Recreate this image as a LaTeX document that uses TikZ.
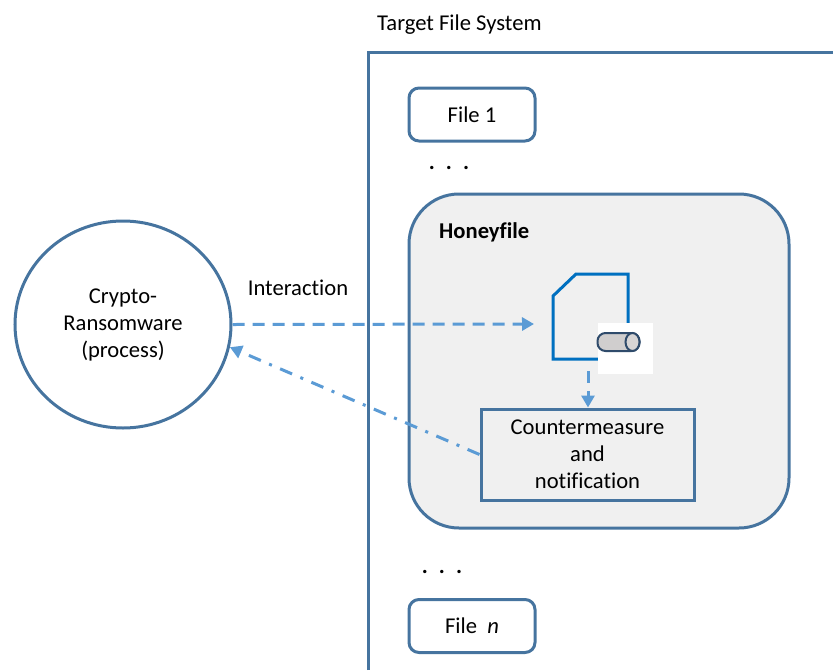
\documentclass[tikz,border=0pt]{standalone}
\usepackage{fontspec}
\setmainfont{Carlito}[Ligatures=NoCommon]
\usetikzlibrary{arrows.meta, positioning, shapes.geometric}

\definecolor{framecol}{HTML}{46749F}
\definecolor{flowcol}{HTML}{5B9BD5}
\definecolor{iconcol}{HTML}{0070C0}
\definecolor{honeycol}{HTML}{F0F0F0}
\definecolor{cylcol}{HTML}{D0CECE}
\definecolor{cyledge}{HTML}{2F4B6B}

\begin{document}
\begin{tikzpicture}[
    x=1pt, y=-1pt,
    font=\fontsize{22.6}{27}\selectfont,
    box/.style={rectangle, draw=framecol, line width=3pt, align=center, inner sep=0pt},
    filebox/.style={box, rounded corners=10pt, minimum width=126pt, minimum height=53pt},
    arrow/.style={-{Triangle[length=12pt, width=13pt]}, flowcol, line width=3pt}
]
\useasboundingbox (0,0) rectangle (833,670);

% Frame
\draw[framecol, line width=3pt] (368,670) -- (368,52) -- (833,52);
\node[anchor=west, inner sep=0pt] (title) at (377,25) {Target File System};

% Boxes
\node[filebox] (file1) at (472,114.5) {File 1};
\node[filebox] (filen) at (472,626) {File \ \textit{n}};
\node[box, rounded corners=50pt, fill=honeycol, minimum width=380pt, minimum height=334pt] (honey) at (599,361) {};
\node[anchor=west, inner sep=0pt] (honeylabel) at (439,232) {\textbf{Honeyfile}};
\node[box, minimum width=213pt, minimum height=91pt] (counter) at (587.5,454.5) {Countermeasure\\and\\notification};
\node[ellipse, draw=framecol, line width=3pt, minimum width=216pt, minimum height=207pt, align=center, inner sep=0pt] (crypto) at (123,324.5) {Crypto-\\Ransomware\\(process)};

% Dots
\node[inner sep=0pt] (dots1) at (449,168) {\textbf{.\hspace{11pt}.\hspace{11pt}.}};
\node[inner sep=0pt] (dots2) at (442,572) {\textbf{.\hspace{11pt}.\hspace{11pt}.}};

% File icon
\draw[iconcol, line width=3pt, line join=miter] (598,359) -- (553,359) -- (553,296) -- (576,274) -- (628,274) -- (628,330);
\node[rectangle, fill=white, minimum width=55pt, minimum height=51pt, inner sep=0pt] (icon) at (625.5,348.5) {};
\node[rectangle, rounded corners=8pt, draw=cyledge, line width=2pt, fill=cylcol, minimum width=42pt, minimum height=18pt, inner sep=0pt] (cylbody) at (618.5,342) {};
\node[ellipse, draw=cyledge, line width=2pt, fill=cylcol!85!white, minimum width=14pt, minimum height=18pt, inner sep=0pt] (cylcap) at (632.5,342) {};

% Arrows
\coordinate (target) at (534,324);
\coordinate (sensor) at (588,371);
\draw[arrow, dash pattern=on 12pt off 8pt] (crypto.east) -- (target);
\draw[arrow, dash pattern=on 12pt off 8pt] (sensor) -- (sensor |- counter.north);
\draw[arrow, dash pattern=on 13pt off 9pt on 3pt off 9pt] (counter.west) -- (crypto.-12);

% Labels
\node[inner sep=0pt] (interaction) at (298,288) {Interaction};

\end{tikzpicture}
\end{document}
